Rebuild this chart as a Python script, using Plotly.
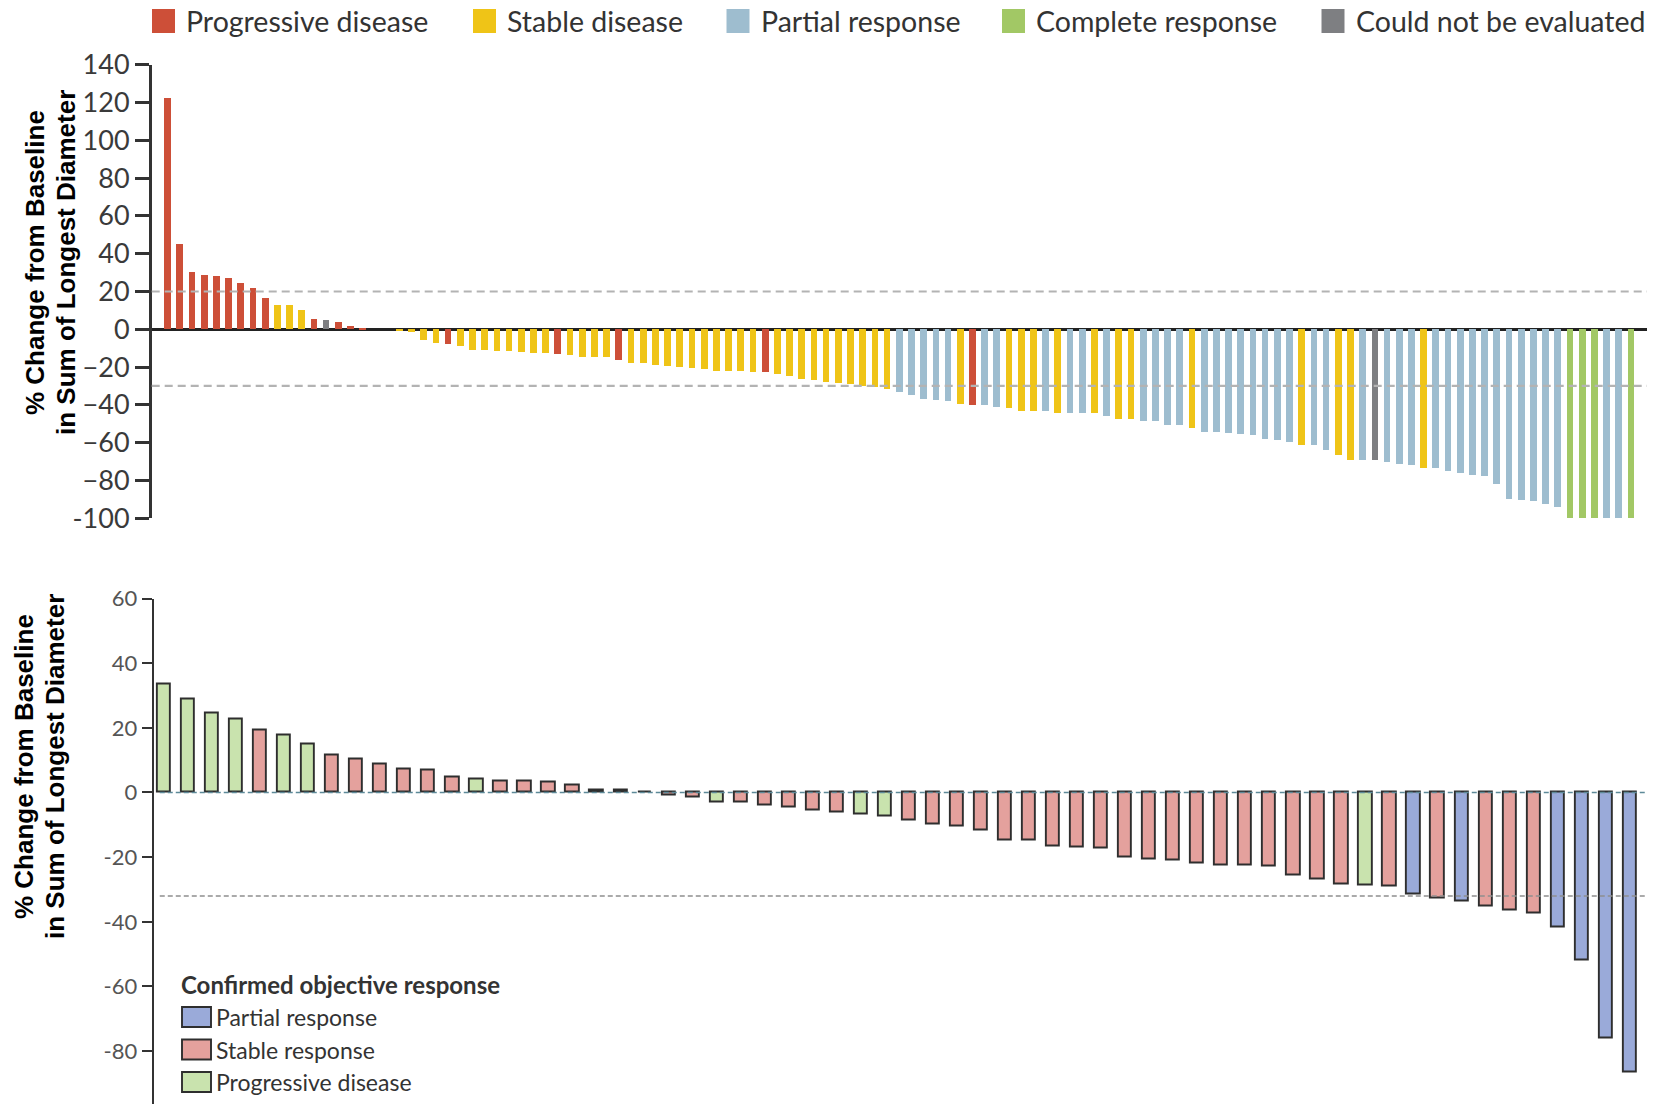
import plotly.graph_objects as go

W, H = 1663, 1104

# ---------------- upper waterfall ----------------
top_values = [
    122.6, 45.5, 30.3, 28.6, 28.2, 27.0, 24.7, 21.9, 16.8,
    13.2, 12.7, 10.4,
    5.3, 4.9, 4.2, 1.8, 0.9,
    0.0, 0.0, -0.4,
    -1.4, -5.3, -6.9, -7.6, -9.0, -10.6, -10.6, -11.5, -11.5,
    -12.1, -12.5, -12.7, -13.2, -13.4, -14.5, -14.5, -14.8, -16.2,
    -17.6, -17.6, -19.0, -19.2, -19.9, -20.6, -20.8, -22.0, -22.0, -22.2, -22.4, -22.6,
    -23.8, -24.7, -26.3, -26.8, -27.7, -28.4, -29.1, -30.0, -30.7, -31.4,
    -33.2, -34.9, -36.7, -37.4, -37.9, -39.3, -39.9, -40.2, -40.9, -41.4,
    -42.9, -43.2, -43.2, -44.1, -44.1, -44.4, -44.4, -45.9, -47.3, -47.6,
    -48.5, -48.5, -50.4, -50.8, -52.2, -54.1, -54.3, -54.9, -55.4, -55.7,
    -58.2, -58.6, -59.6, -61.0, -61.4, -63.8, -66.3, -69.1, -69.1, -69.1,
    -70.2, -71.1, -71.8, -73.5, -73.5, -74.8, -76.2, -77.2, -77.8, -81.8,
    -89.6, -90.5, -90.8, -92.2, -94.2, -100, -100, -100, -100, -100, -100,
]
# P progressive, S stable, R partial response, C complete response, N not evaluable
top_status = (
    ["P"] * 9 + ["S"] * 3 + ["P", "N", "P", "P", "P"] + ["S"] * 6
    + ["P"] + ["S"] * 8 + ["P"] + ["S"] * 4 + ["P"] + ["S"] * 11 + ["P"] + ["S"] * 10
    + ["R"] * 5 + ["S", "P", "R", "R", "S", "S", "S", "R", "S", "R", "R", "S", "R", "S", "S"]
    + ["R"] * 4 + ["S"] + ["R"] * 8 + ["S", "R", "R", "S", "S", "R", "N", "R", "R", "R", "S"]
    + ["R"] * 11 + ["C", "C", "C", "R", "R", "C"]
)
top_colors = {"P": "#CD4F38", "S": "#EFC417", "R": "#9EBDCF", "C": "#A2C865", "N": "#7E7F82"}
top_legend_labels = ["Progressive disease", "Stable disease", "Partial response",
                     "Complete response", "Could not be evaluated"]
top_legend_codes = ["P", "S", "R", "C", "N"]
top_ticks = [140, 120, 100, 80, 60, 40, 20, 0, -20, -40, -60, -80, -100]
top_ticktext = ["140", "120", "100", "80", "60", "40", "20", "0",
                "\u221220", "\u221240", "\u221260", "\u221280", "-100"]
top_thresholds = [20, -30]

# ---------------- lower waterfall ----------------
bottom_values = [
    33.4, 28.9, 24.3, 22.5, 19.2, 17.5, 14.9, 11.5, 10.3, 8.7,
    7.1, 6.9, 4.5, 3.9, 3.4, 3.3, 3.2, 2.3, 0.7, 0.5,
    0.0, -0.8, -1.5, -3.2, -3.2, -3.9, -4.6, -5.6, -6.1, -6.7,
    -7.5, -8.6, -9.8, -10.4, -11.8, -14.8, -15.0, -16.8, -17.0, -17.3,
    -20.2, -20.7, -21.0, -22.0, -22.5, -22.6, -22.8, -25.8, -26.9, -28.4,
    -28.9, -29.2, -31.7, -32.7, -33.8, -35.2, -36.4, -37.3, -41.9, -52.1, -76.0, -86.7,
]
# PR partial response, SR stable response, PD progressive disease
bottom_status = (
    ["PD"] * 4 + ["SR", "PD", "PD"] + ["SR"] * 6 + ["PD"] + ["SR"] * 9 + ["PD"]
    + ["SR"] * 5 + ["PD", "PD"] + ["SR"] * 19 + ["PD", "SR", "PR", "SR", "PR"]
    + ["SR"] * 3 + ["PR"] * 4
)
bottom_colors = {"PR": "#9AAAD9", "SR": "#E4A19D", "PD": "#C9E3AE"}
bottom_legend_title = "Confirmed objective response"
bottom_legend_labels = ["Partial response", "Stable response", "Progressive disease"]
bottom_legend_codes = ["PR", "SR", "PD"]
bottom_ticks = [60, 40, 20, 0, -20, -40, -60, -80]
bottom_threshold = -32

y_title = ["% Change from Baseline", "in Sum of Longest Diameter"]


def px(x):
    return x / W


def py(y):
    return 1 - y / H


fig = go.Figure()

fig.add_trace(go.Bar(
    x=list(range(len(top_values))), y=top_values,
    marker=dict(color=[top_colors[s] for s in top_status], line=dict(width=0)),
    width=0.55, xaxis="x", yaxis="y", showlegend=False, hoverinfo="y",
))

fig.add_trace(go.Bar(
    x=list(range(len(bottom_values))), y=bottom_values,
    marker=dict(color=[bottom_colors[s] for s in bottom_status],
                line=dict(color="#2e2e2e", width=1.9)),
    width=0.55, xaxis="x2", yaxis="y2", showlegend=False, hoverinfo="y",
))

shapes = []
annotations = []

# threshold lines of the upper chart
for t in top_thresholds:
    shapes.append(dict(type="line", xref="x domain", yref="y", x0=0, x1=1, y0=t, y1=t,
                       line=dict(color="#b3b3b3", width=2.2, dash="8px,5px"), layer="above"))

# baseline and threshold of the lower chart
shapes.append(dict(type="line", xref="x2 domain", yref="y2", x0=0.004, x1=1, y0=0, y1=0,
                   line=dict(color="#5e8a99", width=1.5, dash="5px,3px"), layer="above"))
shapes.append(dict(type="line", xref="x2 domain", yref="y2", x0=0.004, x1=1,
                   y0=bottom_threshold, y1=bottom_threshold,
                   line=dict(color="#8f8f8f", width=1.5, dash="5px,3px"), layer="above"))

# legend across the top
sw_x = [152, 473, 726.5, 1002, 1321.5]
for xs, code, label in zip(sw_x, top_legend_codes, top_legend_labels):
    shapes.append(dict(type="rect", xref="paper", yref="paper",
                       x0=px(xs), x1=px(xs + 23), y0=py(33), y1=py(9),
                       fillcolor=top_colors[code], line=dict(width=0)))
    annotations.append(dict(xref="paper", yref="paper", x=px(xs + 32), y=py(21),
                            xanchor="left", yanchor="middle", showarrow=False,
                            text=label, font=dict(family="Lato", size=28.5, color="#333333")))

# legend inside the lower chart
annotations.append(dict(xref="paper", yref="paper", x=px(179), y=py(984),
                        xanchor="left", yanchor="middle", showarrow=False,
                        text="<b>" + bottom_legend_title + "</b>",
                        font=dict(family="Lato", size=24, color="#333333")))
for k, (code, label) in enumerate(zip(bottom_legend_codes, bottom_legend_labels)):
    yc = 1017 + k * 32.5
    shapes.append(dict(type="rect", xref="paper", yref="paper",
                       x0=px(182), x1=px(211), y0=py(yc + 10), y1=py(yc - 10),
                       fillcolor=bottom_colors[code], line=dict(color="#2e2e2e", width=1.9)))
    annotations.append(dict(xref="paper", yref="paper", x=px(214), y=py(yc),
                            xanchor="left", yanchor="middle", showarrow=False,
                            text=label, font=dict(family="Lato", size=23, color="#333333")))

# y-axis titles, two lines each
for (x1, x2, yc) in [(35, 66, 263), (24, 55, 767)]:
    for xc, line in zip((x1, x2), y_title):
        annotations.append(dict(xref="paper", yref="paper", x=px(xc), y=py(yc),
                                xanchor="center", yanchor="middle", showarrow=False,
                                textangle=-90, text="<b>" + line + "</b>",
                                font=dict(family="Liberation Sans, Arial", size=26,
                                          color="#000000")))

fig.update_layout(
    template="none",
    width=W, height=H,
    margin=dict(l=0, r=0, t=0, b=0, pad=0, autoexpand=False),
    paper_bgcolor="white", plot_bgcolor="white",
    bargap=0,
    xaxis=dict(domain=[px(151.7), px(1647)], range=[-1.28, 121.34], visible=False,
               anchor="y", automargin=False),
    yaxis=dict(domain=[py(518.2), py(64.8)], range=[-100, 140], anchor="x",
               automargin=False,
               showline=True, linecolor="#333333", linewidth=2.5,
               ticks="outside", ticklen=14, tickwidth=2.5, tickcolor="#333333",
               tickvals=top_ticks, ticktext=top_ticktext,
               tickfont=dict(family="Lato", size=27, color="#3a3a3a"),
               showgrid=False, zeroline=True, zerolinecolor="#222222", zerolinewidth=2.5),
    xaxis2=dict(domain=[px(153.8), px(1645)], range=[-0.44, 61.62], visible=False,
                anchor="y2", automargin=False),
    yaxis2=dict(domain=[0, py(598.5)], range=[-96.35, 60], anchor="x2",
                automargin=False,
                showline=True, linecolor="#333333", linewidth=2.2,
                ticks="outside", ticklen=10, tickwidth=2, tickcolor="#333333",
                tickvals=bottom_ticks, ticktext=[str(v) for v in bottom_ticks],
                tickfont=dict(family="Liberation Sans Narrow, Lato", size=22, color="#555555"),
                showgrid=False, zeroline=False),
    shapes=shapes,
    annotations=annotations,
)

fig.write_html("out.html")
